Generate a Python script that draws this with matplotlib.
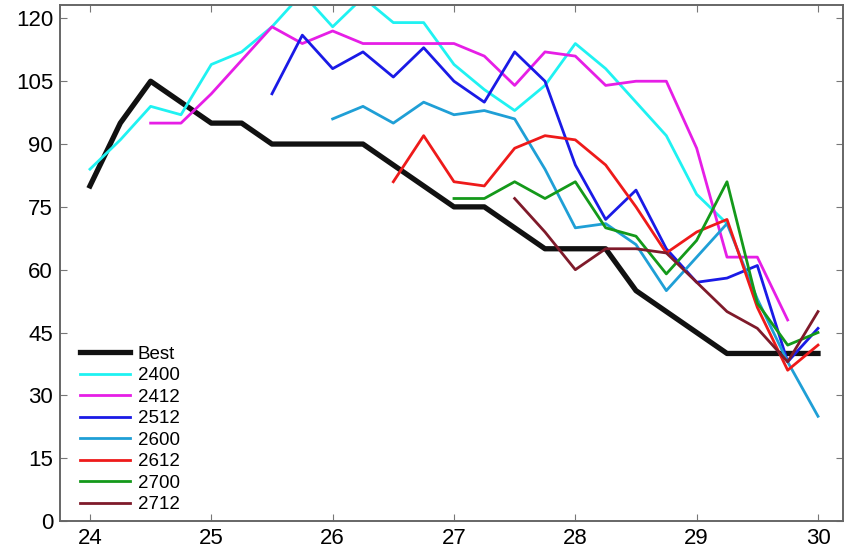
import numpy as np
import matplotlib
matplotlib.use('Agg')
import matplotlib.pyplot as plt

nan = np.nan

# x positions (every quarter unit from 24 to 30)
x = [24, 24.25, 24.5, 24.75, 25, 25.25, 25.5, 25.75, 26, 26.25, 26.5, 26.75,
     27, 27.25, 27.5, 27.75, 28, 28.25, 28.5, 28.75, 29, 29.25, 29.5, 29.75, 30]

best = [80, 95, 105, 100, 95, 95, 90, 90, 90, 90, 85, 80,
        75, 75, 70, 65, 65, 65, 55, 50, 45, 40, 40, 40, 40]
s2400 = [84, 91, 99, 97, 109, 112, 118, 126, 118, 125, 119, 119,
         109, 103, 98, 104, 114, 108, 100, 92, 78, 71, nan, nan, nan]
s2412 = [nan, nan, 95, 95, 102, 110, 118, 114, 117, 114, 114, 114,
         114, 111, 104, 112, 111, 104, 105, 105, 89, 63, 63, 48, nan]
s2512 = [nan, nan, nan, nan, nan, nan, 102, 116, 108, 112, 106, 113,
         105, 100, 112, 105, 85, 72, 79, 65, 57, 58, 61, 38, 46]
s2600 = [nan, nan, nan, nan, nan, nan, nan, nan, 96, 99, 95, 100,
         97, 98, 96, 84, 70, 71, 66, 55, 63, 71, 53, 38, 25]
s2612 = [nan, nan, nan, nan, nan, nan, nan, nan, nan, nan, 81, 92,
         81, 80, 89, 92, 91, 85, 75, 64, 69, 72, 51, 36, 42]
s2700 = [nan, nan, nan, nan, nan, nan, nan, nan, nan, nan, nan, nan,
         77, 77, 81, 77, 81, 70, 68, 59, 67, 81, 52, 42, 45]
s2712 = [nan, nan, nan, nan, nan, nan, nan, nan, nan, nan, nan, nan,
         nan, nan, 77, 69, 60, 65, 65, 64, 57, 50, 46, 38, 50]

labels = ['Best', '2400', '2412', '2512', '2600', '2612', '2700', '2712']
colours = ['#111111', '#1ff2f2', '#e61ee6', '#1a1ae6', '#1f9fd6',
           '#ee1a1a', '#14991a', '#7f1a2a']
series = [best, s2400, s2412, s2512, s2600, s2612, s2700, s2712]

plt.rcParams['font.family'] = ['Liberation Sans', 'DejaVu Sans']

fig = plt.figure(figsize=(8.44, 5.53), dpi=100)
ax = fig.add_axes([60 / 844, 32 / 553, 783 / 844, 516 / 553])

for i, (ys, lab, col) in enumerate(zip(series, labels, colours)):
    lw = 3.8 if i == 0 else 2.0
    ax.plot(x, ys, color=col, linewidth=lw, label=lab)

ax.set_xlim(23.753, 30.206)
ax.set_ylim(0, 123.2)
ax.set_xticks([24, 25, 26, 27, 28, 29, 30])
ax.set_yticks(np.arange(0, 121, 15))

ax.tick_params(direction='in', length=5, width=0.8, color='#777777',
               top=True, right=True, labelsize=16, labelcolor='black')
ax.tick_params(axis='x', pad=5)
ax.tick_params(axis='y', pad=5)
for sp in ax.spines.values():
    sp.set_color('#666666')
    sp.set_linewidth(1.4)

ax.legend(loc='upper left', bbox_to_anchor=(0.026, 0.34), frameon=False,
          fontsize=13.5, handlelength=2.65, handletextpad=0.4,
          labelspacing=0.235, borderaxespad=0, borderpad=0)

fig.savefig('out.png', dpi=100)
